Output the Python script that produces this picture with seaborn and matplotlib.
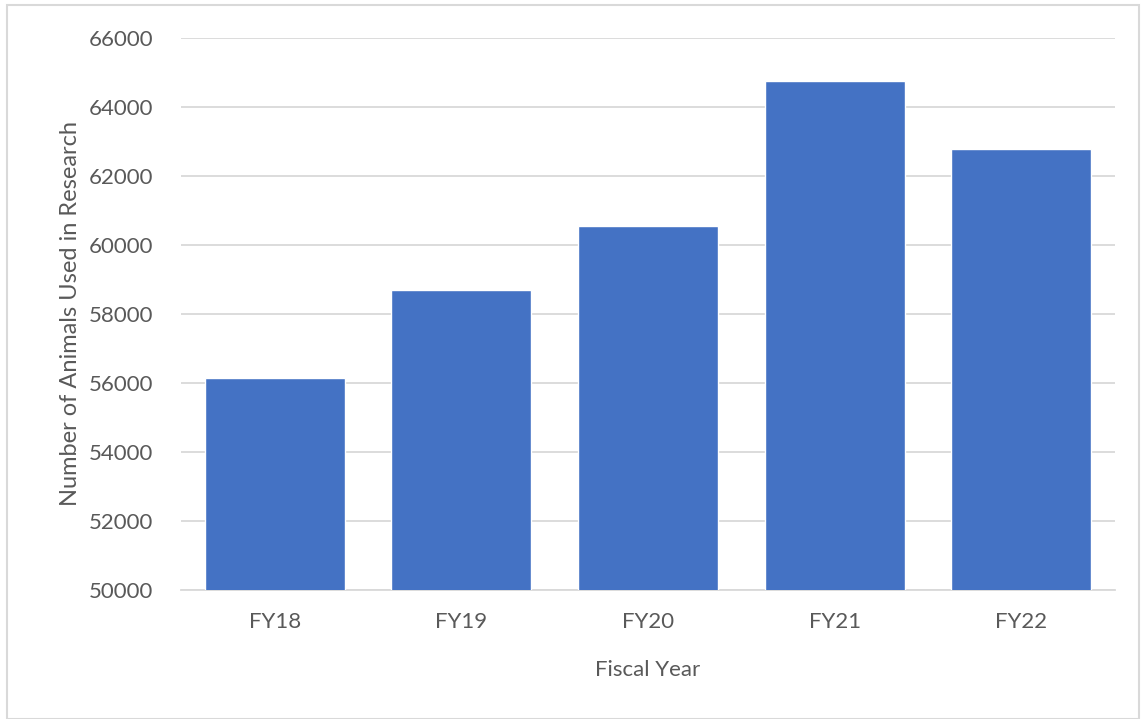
import matplotlib
matplotlib.use("Agg")
import matplotlib.pyplot as plt
import seaborn as sns
import pandas as pd
from matplotlib.patches import Rectangle

# Animals used in research by fiscal year
years = ["FY18", "FY19", "FY20", "FY21", "FY22"]
animals = [56150, 58690, 60540, 64750, 62790]
y_ticks = [50000, 52000, 54000, 56000, 58000, 60000, 62000, 64000, 66000]

df = pd.DataFrame({"Fiscal Year": years, "Animals": animals})

sns.set_theme(style="white")
plt.rcParams["font.family"] = ["Lato", "DejaVu Sans"]

text_color = "#595959"
bar_color = "#4472C4"
grid_color = "#D9D9D9"

fig = plt.figure(figsize=(11.41, 7.19), dpi=100)
ax = fig.add_axes([0.159, 0.180, 0.818, 0.7667])

sns.barplot(data=df, x="Fiscal Year", y="Animals", color=bar_color,
            width=0.75, saturation=1, ax=ax, zorder=3)

ax.set_ylim(50000, 66000)
ax.set_yticks(y_ticks)
ax.set_yticklabels([str(v) for v in y_ticks])
ax.yaxis.grid(True, color=grid_color, linewidth=1.3, zorder=0)
ax.set_axisbelow(True)

for side in ["top", "right", "left"]:
    ax.spines[side].set_visible(False)
ax.spines["bottom"].set_color(grid_color)
ax.spines["bottom"].set_linewidth(1.3)

ax.tick_params(axis="both", length=0, labelsize=16, labelcolor=text_color)
ax.tick_params(axis="y", pad=20)
ax.tick_params(axis="x", pad=16)

ax.set_xlabel("Fiscal Year", fontsize=16, color=text_color, labelpad=20)
ax.set_ylabel("Number of Animals Used in Research", fontsize=17,
              color=text_color, labelpad=6)

# Light outer border around the chart area
fig.patches.append(Rectangle((0.0064, 0.0), 0.992, 0.993, transform=fig.transFigure,
                             fill=False, edgecolor="#D9D9D9", linewidth=1.5))

fig.savefig("out.png", dpi=100)
